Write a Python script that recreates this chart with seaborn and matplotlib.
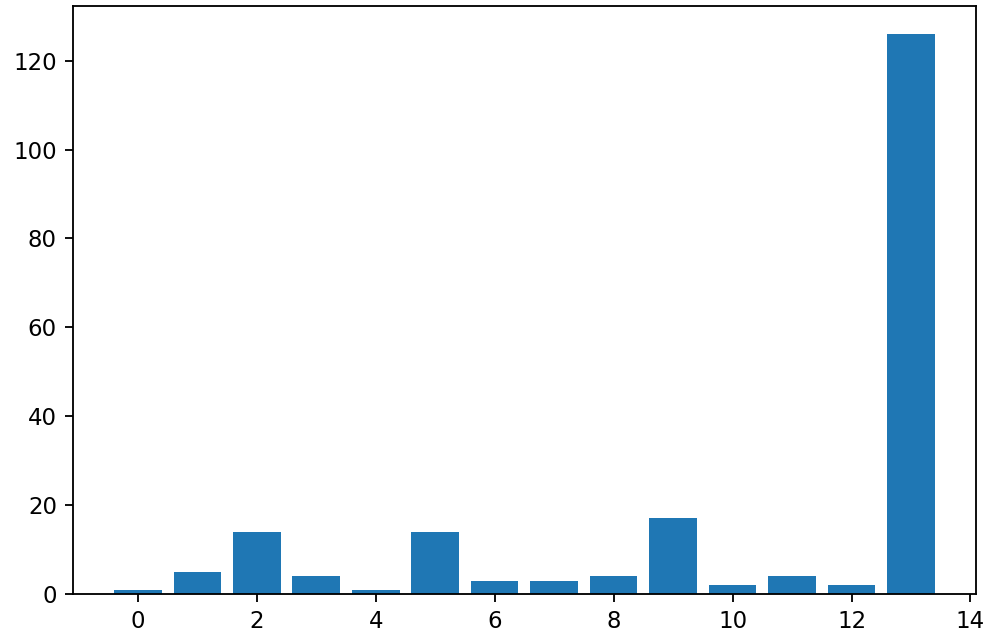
import numpy as np
import pandas as pd
import seaborn as sns
import matplotlib.pyplot as plt

# bar heights
positions = [0, 1, 2, 3, 4, 5, 6, 7, 8, 9, 10, 11, 12, 13]
counts = [1, 5, 14, 4, 1, 14, 3, 3, 4, 17, 2, 4, 2, 126]
x_ticks = [0, 2, 4, 6, 8, 10, 12, 14]

df = pd.DataFrame({"pos": positions, "count": counts})

plt.rcParams["font.family"] = ["DejaVu Sans"]
fig = plt.figure(figsize=(991 / 165, 641 / 165), dpi=165)
ax = fig.add_axes([0.0737, 0.0733, 0.911, 0.9173])

sns.barplot(data=df, x="pos", y="count", native_scale=True, color="#1f77b4",
            saturation=1, width=0.8, ax=ax)

ax.set_xticks(x_ticks)
ax.set_xlim(-1.09, 14.09)
ax.set_ylim(0, 126 * 1.05)
ax.set_xlabel("")
ax.set_ylabel("")
ax.tick_params(labelsize=10)

fig.savefig("out.png", dpi=165)
